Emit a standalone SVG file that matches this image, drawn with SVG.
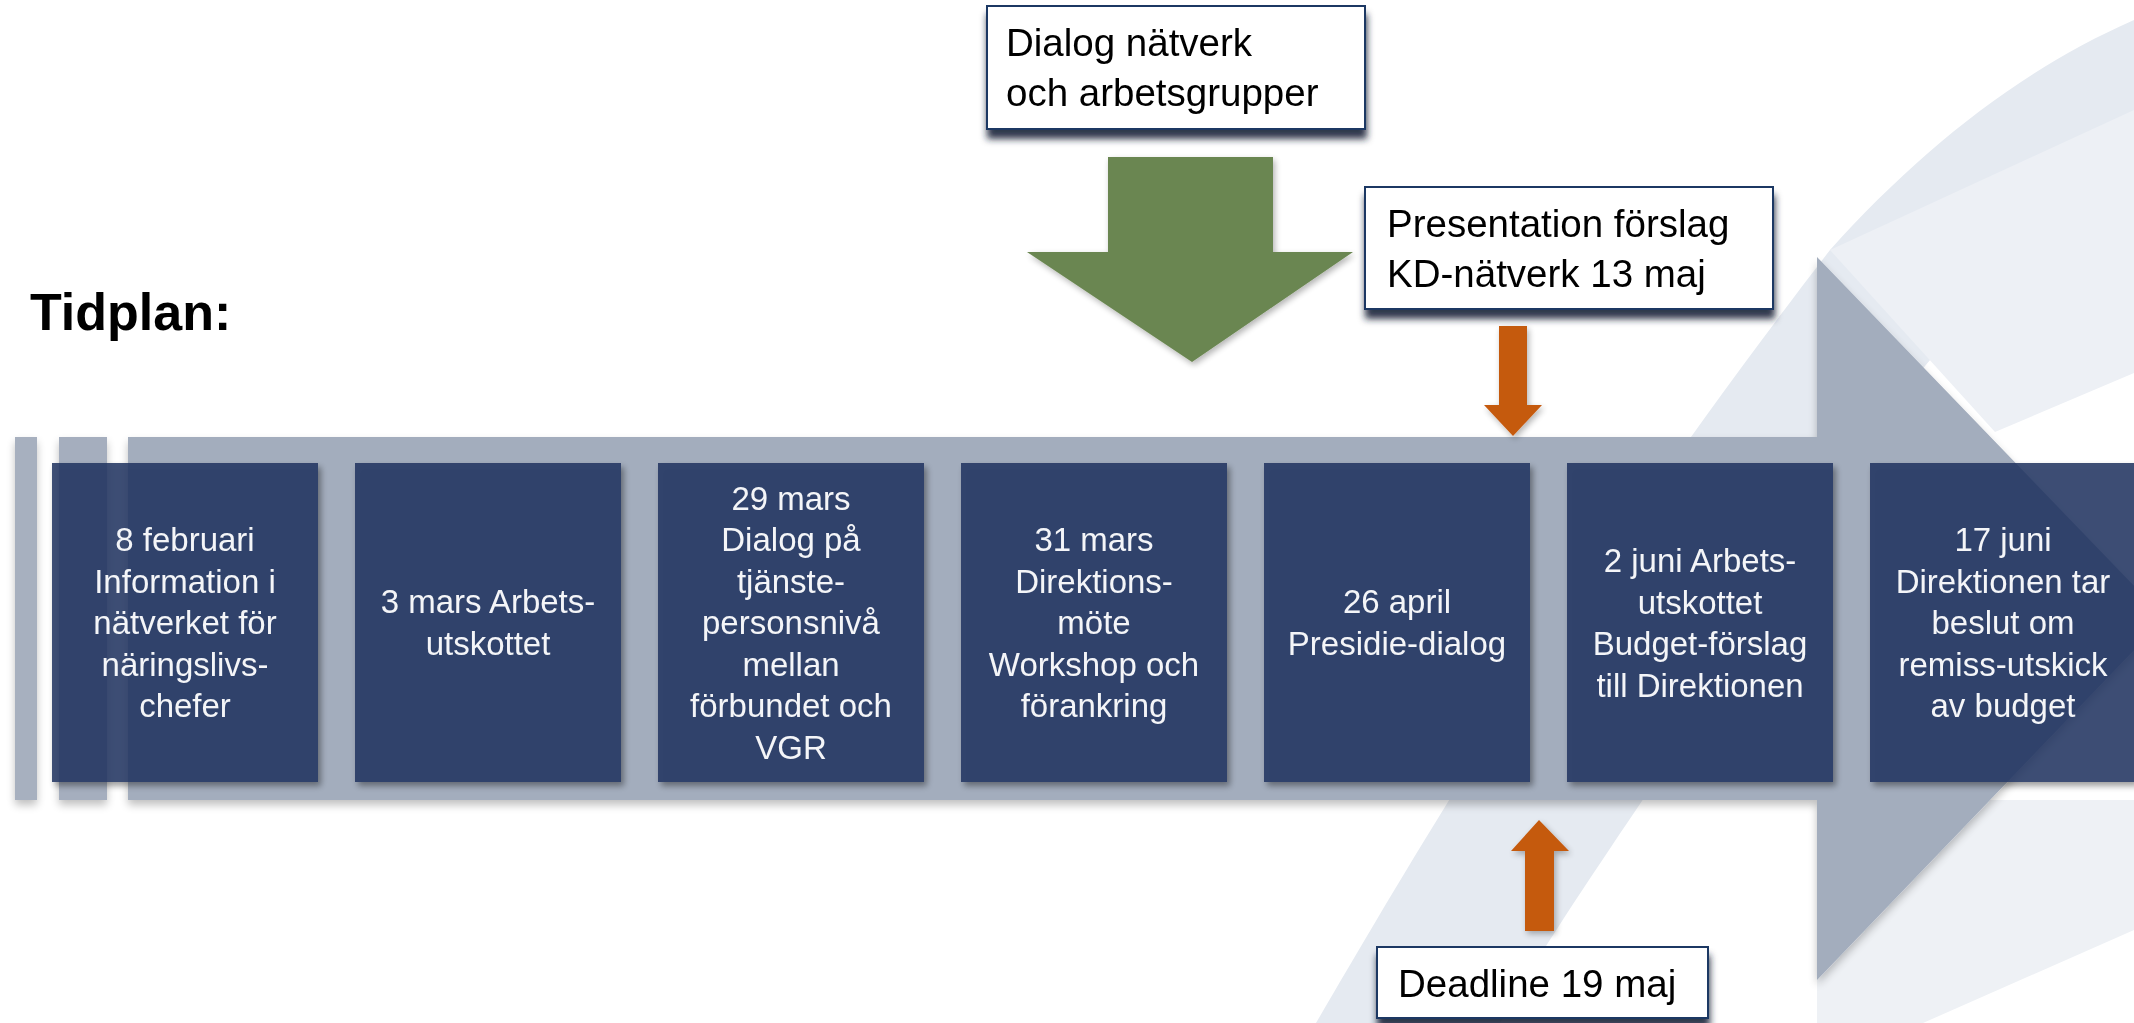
<svg xmlns="http://www.w3.org/2000/svg" width="2134" height="1023" viewBox="0 0 2134 1023">
<defs>
<style>
.bt{font-family:"Liberation Sans",Arial,sans-serif;font-size:33px;fill:#F4F5F8;text-anchor:middle}
.nt{font-family:"Liberation Sans",Arial,sans-serif;font-size:38.5px;fill:#000}
.box{fill:#1F3360;fill-opacity:0.86}
.note{fill:#fff;stroke:#1F3864;stroke-width:2}
.orange{fill:#C55A11}
</style>
<filter id="boxSh" x="-10%" y="-10%" width="125%" height="125%">
<feGaussianBlur in="SourceAlpha" stdDeviation="3" result="b"/>
<feOffset in="b" dx="3" dy="4" result="o"/>
<feComponentTransfer in="o" result="t"><feFuncA type="linear" slope="0.45"/></feComponentTransfer>
<feComposite in="t" in2="SourceAlpha" operator="out" result="s"/>
<feMerge><feMergeNode in="s"/><feMergeNode in="SourceGraphic"/></feMerge>
</filter>
<filter id="noteSh" x="-5%" y="-10%" width="112%" height="145%">
<feGaussianBlur in="SourceAlpha" stdDeviation="3.5" result="b"/>
<feOffset in="b" dx="1" dy="9" result="o"/>
<feFlood flood-color="#1A2238" flood-opacity="0.9"/>
<feComposite in2="o" operator="in" result="s"/>
<feMerge><feMergeNode in="s"/><feMergeNode in="SourceGraphic"/></feMerge>
</filter>
<filter id="bandSh" x="-5%" y="-10%" width="110%" height="125%">
<feGaussianBlur in="SourceAlpha" stdDeviation="4" result="b"/>
<feOffset in="b" dx="0" dy="5" result="o"/>
<feComponentTransfer in="o" result="t"><feFuncA type="linear" slope="0.25"/></feComponentTransfer>
<feMerge><feMergeNode in="t"/><feMergeNode in="SourceGraphic"/></feMerge>
</filter>
<filter id="glow" x="-20%" y="-20%" width="140%" height="140%">
<feGaussianBlur in="SourceAlpha" stdDeviation="3" result="b"/>
<feOffset in="b" dx="2" dy="3" result="o"/>
<feComponentTransfer in="o" result="t"><feFuncA type="linear" slope="0.3"/></feComponentTransfer>
<feMerge><feMergeNode in="t"/><feMergeNode in="SourceGraphic"/></feMerge>
</filter>
</defs>

<rect x="0" y="0" width="2134" height="1023" fill="#FFFFFF"/>

<!-- decorative background swooshes -->
<g id="background">
<path d="M1316,1023 C1400,880 1560,600 1830,250 C1920,150 2020,70 2134,20 L2134,200 C2000,260 1900,380 1820,520 C1720,700 1580,880 1500,1023 Z" fill="#E5EAF1"/>
<path d="M1830,250 L2134,110 L2134,373 L1995,432 Z" fill="#EDF0F5"/>
<path d="M1817,800 L2134,800 L2134,930 L1923,1023 L1817,1023 Z" fill="#EEF1F5"/>
</g>

<!-- timeline band with arrowhead -->
<g id="band" filter="url(#bandSh)">
<rect x="15" y="437" width="22" height="363" fill="#A7B0BF"/>
<rect x="59" y="437" width="48" height="363" fill="#A5AEBE"/>
<path d="M128,437 H1817 V257 L2165,618 L1817,980 V800 H128 Z" fill="#A3ADBD"/>
</g>

<g id="title">
<text x="30" y="330" font-family="Liberation Sans, Arial, sans-serif" font-size="52" font-weight="bold" fill="#000">Tidplan:</text>
</g>

<g id="box1" filter="url(#boxSh)">
<rect class="box" x="52" y="463" width="266" height="319"/>
<text class="bt"><tspan x="185" y="551">8 februari</tspan><tspan x="185" y="592.5">Information i</tspan><tspan x="185" y="634">nätverket för</tspan><tspan x="185" y="675.5">näringslivs-</tspan><tspan x="185" y="717">chefer</tspan></text>
</g>
<g id="box2" filter="url(#boxSh)">
<rect class="box" x="355" y="463" width="266" height="319"/>
<text class="bt"><tspan x="488" y="613">3 mars Arbets-</tspan><tspan x="488" y="655">utskottet</tspan></text>
</g>
<g id="box3" filter="url(#boxSh)">
<rect class="box" x="658" y="463" width="266" height="319"/>
<text class="bt"><tspan x="791" y="509.5">29 mars</tspan><tspan x="791" y="551">Dialog på</tspan><tspan x="791" y="592.5">tjänste-</tspan><tspan x="791" y="634">personsnivå</tspan><tspan x="791" y="675.5">mellan</tspan><tspan x="791" y="717">förbundet och</tspan><tspan x="791" y="758.5">VGR</tspan></text>
</g>
<g id="box4" filter="url(#boxSh)">
<rect class="box" x="961" y="463" width="266" height="319"/>
<text class="bt"><tspan x="1094" y="551">31 mars</tspan><tspan x="1094" y="592.5">Direktions-</tspan><tspan x="1094" y="634">möte</tspan><tspan x="1094" y="675.5">Workshop och</tspan><tspan x="1094" y="717">förankring</tspan></text>
</g>
<g id="box5" filter="url(#boxSh)">
<rect class="box" x="1264" y="463" width="266" height="319"/>
<text class="bt"><tspan x="1397" y="613">26 april</tspan><tspan x="1397" y="655">Presidie-dialog</tspan></text>
</g>
<g id="box6" filter="url(#boxSh)">
<rect class="box" x="1567" y="463" width="266" height="319"/>
<text class="bt"><tspan x="1700" y="572">2 juni Arbets-</tspan><tspan x="1700" y="613.5">utskottet</tspan><tspan x="1700" y="655">Budget-förslag</tspan><tspan x="1700" y="696.5">till Direktionen</tspan></text>
</g>
<g id="box7" filter="url(#boxSh)">
<rect class="box" x="1870" y="463" width="266" height="319"/>
<text class="bt"><tspan x="2003" y="551">17 juni</tspan><tspan x="2003" y="592.5">Direktionen tar</tspan><tspan x="2003" y="634">beslut om</tspan><tspan x="2003" y="675.5">remiss-utskick</tspan><tspan x="2003" y="717">av budget</tspan></text>
</g>

<g id="connectors">
<polygon id="greenArrow" filter="url(#glow)" points="1108,157 1273,157 1273,252 1353,252 1192,362 1027,252 1108,252" fill="#6A8651"/>
<polygon id="arrowDown" class="orange" filter="url(#glow)" points="1499,326 1527,326 1527,405 1542,405 1513,436 1484,405 1499,405"/>
<polygon id="arrowUp" class="orange" filter="url(#glow)" points="1525,931 1554,931 1554,851 1569,851 1539,820 1511,851 1525,851"/>
</g>

<g id="dialog" filter="url(#noteSh)">
<rect class="note" x="987" y="6" width="378" height="123"/>
<text class="nt"><tspan x="1006" y="56">Dialog nätverk</tspan><tspan x="1006" y="106">och arbetsgrupper</tspan></text>
</g>
<g id="presentation" filter="url(#noteSh)">
<rect class="note" x="1365" y="187" width="408" height="122"/>
<text class="nt"><tspan x="1387" y="237">Presentation förslag</tspan><tspan x="1387" y="287">KD-nätverk 13 maj</tspan></text>
</g>
<g id="deadline" filter="url(#noteSh)">
<rect class="note" x="1377" y="947" width="331" height="71"/>
<text class="nt" x="1398" y="997">Deadline 19 maj</text>
</g>
</svg>
